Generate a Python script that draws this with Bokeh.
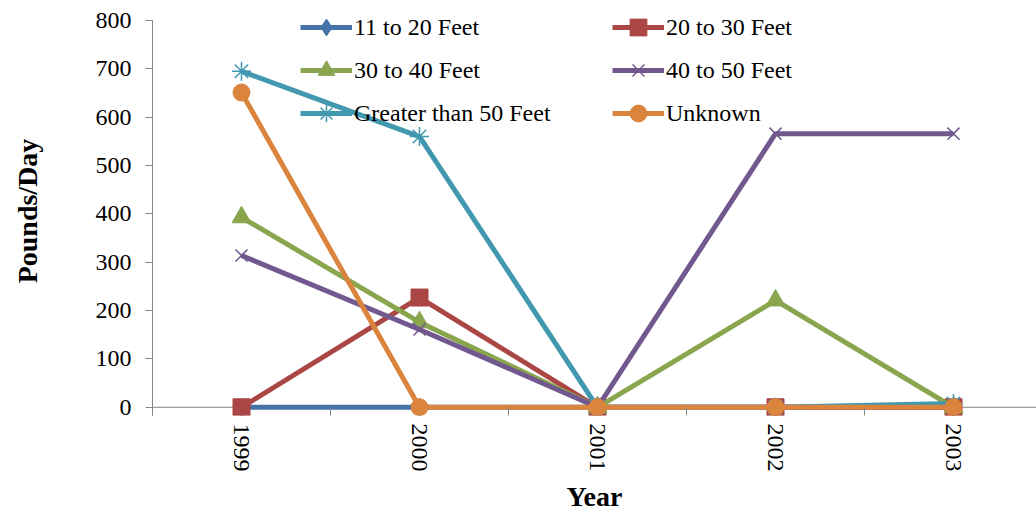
from bokeh.plotting import figure
from bokeh.models import Range1d, FixedTicker, Legend, LegendItem, Span
from bokeh.embed import file_html
from bokeh.resources import INLINE

years = ["1999", "2000", "2001", "2002", "2003"]
s_11_20 = [0, 0, 0, 0, 0]
s_20_30 = [0, 227, 0, 0, 0]
s_30_40 = [393, 176, 0, 221, 0]
s_40_50 = [314, 161, 0, 566, 566]
s_gt_50 = [695, 560, 0, 0, 8]
s_unknown = [651, 0, 0, 0, 0]
y_ticks = [0, 100, 200, 300, 400, 500, 600, 700, 800]

series = [
    ("11 to 20 Feet", s_11_20, "#4572A7", "diamond", 18),
    ("20 to 30 Feet", s_20_30, "#AA4643", "square", 17),
    ("30 to 40 Feet", s_30_40, "#89A54E", "triangle", 19),
    ("40 to 50 Feet", s_40_50, "#71588F", "x", 17),
    ("Greater than 50 Feet", s_gt_50, "#4198AF", "asterisk", 19),
    ("Unknown", s_unknown, "#DB843D", "circle", 17),
]

FONT = "Liberation Serif"
AXIS_GREY = "#868686"
xs = list(range(len(years)))
Y_LOW = -17

p = figure(width=1036, height=514, output_backend="svg", toolbar_location=None,
           x_range=Range1d(-0.5, 884 / 178 - 0.5), y_range=Range1d(Y_LOW, 829),
           min_border_left=152, min_border_right=0, min_border_top=6, min_border_bottom=99)
p.outline_line_color = None
p.grid.grid_line_color = None
p.background_fill_color = "white"
p.border_fill_color = "white"

# horizontal category axis line at value 0
p.add_layout(Span(location=0, dimension="width", line_color=AXIS_GREY, line_width=1,
                  level="underlay"))

items = []
for name, vals, color, marker, size in series:
    ln = p.line(xs, vals, line_color=color, line_width=5)
    if marker in ("x", "asterisk"):
        mk = p.scatter(xs, vals, marker=marker, size=size, line_color=color,
                       line_width=1.5, fill_color=None)
    else:
        mk = p.scatter(xs, vals, marker=marker, size=size, line_color=color,
                       fill_color=color, line_width=1)
    items.append(LegendItem(label=name, renderers=[ln, mk]))

legend = Legend(items=items, location=(148, 281), orientation="horizontal", ncols=2,
                padding=0, spacing=1, label_standoff=2, glyph_width=52, glyph_height=42,
                label_height=42, label_width=257,
                label_text_font=FONT, label_text_font_size="24px", label_text_color="black",
                background_fill_alpha=0, border_line_color=None)
p.add_layout(legend, "center")

xa = p.xaxis[0]
xa.ticker = FixedTicker(ticks=xs, minor_ticks=[i - 0.5 for i in range(len(years) + 1)])
xa.major_label_overrides = {i: y for i, y in enumerate(years)}
xa.major_label_orientation = "vertical"
xa.axis_line_color = None
xa.major_tick_in = 0
xa.major_tick_out = 0
xa.minor_tick_in = 8
xa.minor_tick_out = 0
xa.major_label_standoff = 8
xa.axis_label = "Year"
xa.axis_label_standoff = 6

ya = p.yaxis[0]
ya.ticker = FixedTicker(ticks=y_ticks)
ya.bounds = (Y_LOW, y_ticks[-1])
ya.axis_line_color = AXIS_GREY
ya.major_tick_in = 0
ya.major_tick_out = 7
ya.minor_tick_out = 0
ya.minor_tick_in = 0
ya.major_label_standoff = 14
ya.axis_label = "Pounds/Day"
ya.axis_label_standoff = 50

for ax in (xa, ya):
    ax.major_tick_line_color = AXIS_GREY
    ax.minor_tick_line_color = AXIS_GREY
    ax.major_label_text_font = FONT
    ax.major_label_text_font_size = "24px"
    ax.major_label_text_color = "black"
    ax.axis_label_text_font = FONT
    ax.axis_label_text_font_size = "28px"
    ax.axis_label_text_font_style = "bold"
    ax.axis_label_text_color = "black"

open("out.html", "w").write(file_html(p, INLINE))
